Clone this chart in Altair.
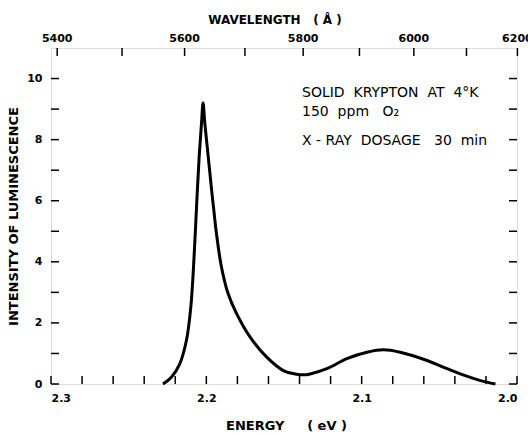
import altair as alt
import pandas as pd

# Luminescence curve (energy in eV, intensity arbitrary units)
energy = [2.2279, 2.2225, 2.2171, 2.2128, 2.2100, 2.2079, 2.2063, 2.2046, 2.2031,
          2.2021, 2.2010, 2.1988, 2.1966, 2.1952, 2.1935, 2.1903, 2.1860, 2.1806,
          2.1719, 2.1611, 2.1504, 2.1418, 2.1375, 2.1332, 2.1224, 2.1095, 2.0966,
          2.0859, 2.0752, 2.0579, 2.0450, 2.0365, 2.0235, 2.0139]
intensity = [0.0, 0.22, 0.66, 1.43, 2.52, 4.16, 5.81, 7.45, 8.55,
             9.20, 8.55, 7.45, 6.35, 5.70, 4.93, 3.84, 2.96, 2.31,
             1.54, 0.88, 0.44, 0.32, 0.30, 0.33, 0.50, 0.83, 1.04,
             1.12, 1.04, 0.77, 0.50, 0.33, 0.11, 0.0]

energy_ticks = [2.30, 2.28, 2.26, 2.24, 2.22, 2.20, 2.18, 2.16, 2.14, 2.12,
                2.10, 2.08, 2.06, 2.04, 2.02, 2.00]
energy_labels = [2.3, 2.2, 2.1, 2.0]
intensity_ticks = [0, 1, 2, 3, 4, 5, 6, 7, 8, 9, 10]
intensity_labels = [0, 2, 4, 6, 8, 10]
wavelength_ticks = [5400, 5500, 5600, 5700, 5800, 5900, 6000, 6100, 6200]
wavelength_labels = [5400, 5600, 5800, 6000, 6200]

NB = "\u00a0"
notes = [f"SOLID{NB}{NB}KRYPTON{NB}{NB}AT{NB}{NB}4°K",
         f"150{NB}{NB}ppm{NB}{NB}{NB}O₂",
         f"X{NB}-{NB}RAY{NB}{NB}DOSAGE{NB}{NB}{NB}30{NB}{NB}min"]

HC = 12398.4  # eV·Å

W, H = 466, 336
FONT = "DejaVu Sans"
TL = 8

curve = pd.DataFrame({"energy": energy, "intensity": intensity})
bt = pd.DataFrame({"energy": energy_ticks})
lt = pd.DataFrame({"intensity": intensity_ticks})
tt = pd.DataFrame({"energy": [HC / w for w in wavelength_ticks]})
tl = pd.DataFrame({"energy": [HC / w for w in wavelength_labels],
                   "wl": [str(w) for w in wavelength_labels]})

xscale = alt.Scale(domain=[2.0, 2.3], reverse=True, nice=False, zero=False)
yscale = alt.Scale(domain=[0, 11], nice=False, zero=True)

xaxis = alt.Axis(values=energy_labels, format=".1f", ticks=False,
                 domain=False, grid=False, labelPadding=8,
                 labelFontSize=11, labelFont=FONT, labelColor="black",
                 labelFontWeight="bold",
                 title=f"ENERGY{NB}{NB}{NB}{NB}{NB}({NB}eV{NB})", titlePadding=16,
                 titleFont=FONT, titleFontSize=13, titleColor="black",
                 titleFontWeight="bold", titleX=235)
yaxis = alt.Axis(values=intensity_labels, ticks=False, domain=False,
                 grid=False, labelPadding=9, labelFontSize=11,
                 labelFont=FONT, labelColor="black",
                 labelFontWeight="bold",
                 title="INTENSITY OF LUMINESCENCE", titlePadding=6,
                 titleFont=FONT, titleFontSize=13, titleColor="black",
                 titleFontWeight="bold")

X = alt.X("energy:Q", scale=xscale, axis=xaxis)
Y = alt.Y("intensity:Q", scale=yscale, axis=yaxis)

line = alt.Chart(curve).mark_line(color="black", strokeWidth=3,
                                  interpolate="catmull-rom").encode(x=X, y=Y)

bottom_ticks = alt.Chart(bt).mark_rule(color="black", strokeWidth=1.5).encode(
    x=X, y=alt.value(H), y2=alt.value(H - TL))
top_ticks = alt.Chart(tt).mark_rule(color="black", strokeWidth=1.5).encode(
    x=X, y=alt.value(0), y2=alt.value(TL))
left_ticks = alt.Chart(lt).mark_rule(color="black", strokeWidth=1.5).encode(
    y=Y, x=alt.value(0), x2=alt.value(TL))
right_ticks = alt.Chart(lt).mark_rule(color="black", strokeWidth=1.5).encode(
    y=Y, x=alt.value(W), x2=alt.value(W - TL))

top_labels = alt.Chart(tl).mark_text(font=FONT, fontSize=11, fontWeight="bold",
                                     baseline="bottom", color="black").encode(
    x=X, y=alt.value(-4), text="wl:N")

top_title = alt.Chart(pd.DataFrame({"t": [f"WAVELENGTH{NB}{NB}{NB}({NB}Å{NB})"]})).mark_text(
    font=FONT, fontSize=12, fontWeight="bold", color="black",
    baseline="alphabetic").encode(x=alt.value(224), y=alt.value(-24), text="t:N")

ann = []
for i, yy in enumerate([49, 68, 97]):
    ann.append(alt.Chart(pd.DataFrame({"t": [notes[i]]})).mark_text(
        font=FONT, fontSize=14, color="black", align="left",
        baseline="alphabetic").encode(x=alt.value(251), y=alt.value(yy),
                                      text="t:N"))

chart = alt.layer(line, bottom_ticks, top_ticks, left_ticks, right_ticks,
                  top_labels, top_title, *ann).properties(
    width=W, height=H,
    autosize=alt.AutoSizeParams(type="none"),
    padding={"left": 51, "top": 48, "right": 11, "bottom": 51},
).configure_view(stroke="black", strokeWidth=2).configure(background="white")

chart.save("out.html", embed_options={"renderer": "svg", "actions": False})
